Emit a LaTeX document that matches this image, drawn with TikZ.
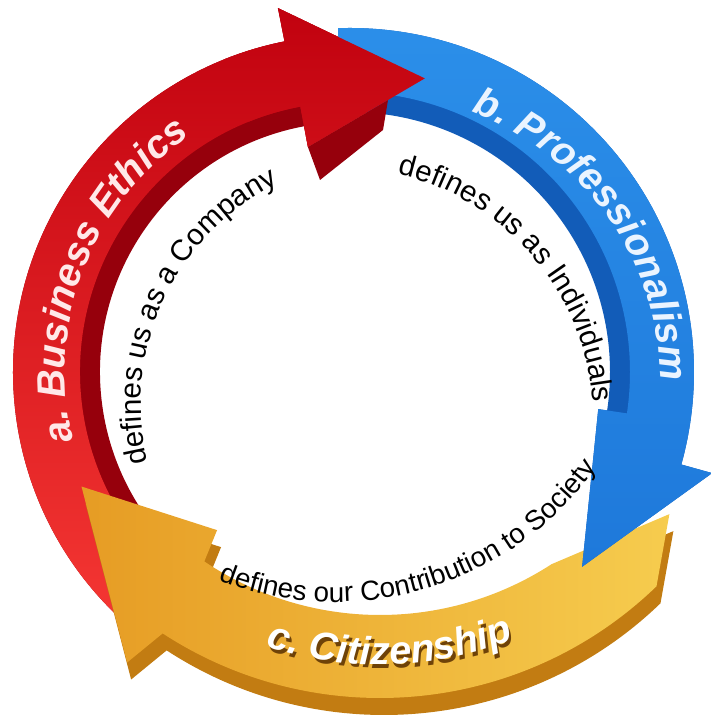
\documentclass[tikz,border=0pt]{standalone}
\usepackage{fontspec}
\setmainfont{Liberation Sans}
\usepackage{tikz}
\usetikzlibrary{decorations.text}
\definecolor{redtop}{RGB}{192,0,14}
\definecolor{redbot}{RGB}{246,56,52}
\definecolor{reddark}{RGB}{150,0,12}
\definecolor{bluetop}{RGB}{44,144,234}
\definecolor{bluebot}{RGB}{26,114,214}
\definecolor{bluedark}{RGB}{18,92,184}
\definecolor{orangeleft}{RGB}{230,156,36}
\definecolor{orangeright}{RGB}{246,204,78}
\definecolor{orangedark}{RGB}{194,124,18}
\definecolor{labelred}{RGB}{255,232,232}
\definecolor{labelblue}{RGB}{234,244,255}
\definecolor{shadowbrown}{RGB}{110,66,8}

\newcommand{\bandfont}{\bfseries\itshape\fontsize{11.2}{13}\selectfont}
\tikzset{
    bandtext/.style 2 args={decorate, decoration={text along path, text align=center, text color=#1, text={|\bandfont|#2}}},
    innertext/.style 2 args={decorate, decoration={text along path, text align=center, text color=black, text={|\fontsize{#1}{10}\selectfont|#2}}}
}

% arrow outlines, #1 = inner radius
\newcommand{\redbody}[1]{(230:3.37) arc[start angle=230, end angle=101.2, radius=3.37] -- (101.2:3.71) -- (75.7:3.03) -- (100.6:2.29) -- (100.6:#1) arc[start angle=100.6, end angle=230, radius=#1] -- cycle}
\newcommand{\redhead}{(112:3.37) arc[start angle=112, end angle=101.2, radius=3.37] -- (101.2:3.71) -- (75.7:3.03) -- (100.6:2.29) -- (100.6:2.70) arc[start angle=100.6, end angle=112, radius=2.70] -- cycle}
\newcommand{\bluebody}[1]{(92:3.44) arc[start angle=92, end angle=-15.6, radius=3.44] -- (-15.6:3.76) -- (-40:3.03) -- (-8.5:2.51) -- (-8.5:#1) arc[start angle=-8.5, end angle=92, radius=#1] -- cycle}
\newcommand{\orangebody}{(314:3.98) arc[start angle=314, end angle=236.9, radius=3.98] -- (235.1:4.42) -- (212:3.52) -- (234.7:2.82) -- (236.1:3.15) arc[start angle=236.1, end angle=303, radius=3.15] -- (323.5:3.60) -- cycle}

\begin{document}
\begin{tikzpicture}

    \useasboundingbox (-3.50,-3.45) rectangle (3.60,3.72);

    % a. red arrow
    \fill[reddark] \redbody{2.50};
    \begin{scope}
        \clip \redbody{2.70};
        \shade[top color=redtop, bottom color=redbot] (-3.6,-2.7) rectangle (3.7,3.8);
    \end{scope}

    % c. orange arrow
    \begin{scope}[shift={(0.30,0.72)}]
        \fill[orangedark, shift={(0.04,-0.17)}] \orangebody;
        \begin{scope}
            \clip \orangebody;
            \shade[left color=orangeleft, right color=orangeright] (-3.0,-4.6) rectangle (2.9,0);
        \end{scope}
    \end{scope}

    % b. blue arrow
    \fill[bluedark] \bluebody{2.60};
    \begin{scope}
        \clip \bluebody{2.80};
        \shade[top color=bluetop, bottom color=bluebot] (-3.6,-3.6) rectangle (3.8,3.8);
    \end{scope}

    % red head again, over the blue tail
    \fill[reddark] (100.6:2.29) -- (0.38,2.72) -- (0.33,2.42) -- (-0.30,1.92) -- cycle;
    \begin{scope}
        \clip \redhead;
        \shade[top color=redtop, bottom color=redbot] (-3.6,-2.7) rectangle (3.7,3.8);
    \end{scope}

    \path[bandtext={labelred}{a. Business Ethics}] (214:2.85) arc[start angle=214, end angle=104, radius=2.85];
    \path[bandtext={labelblue}{b. Professionalism}] ([shift={(0.20,-0.13)}]75.2:2.91) arc[start angle=75.2, end angle=-4.8, radius=2.91];
    \begin{scope}[shift={(0.30,0.72)}]
        \path[bandtext={shadowbrown}{c. Citizenship}, shift={(0.025,-0.035)}] (246.6:3.65) arc[start angle=246.6, end angle=296.6, radius=3.65];
        \path[bandtext={white}{c. Citizenship}] (246.6:3.65) arc[start angle=246.6, end angle=296.6, radius=3.65];
    \end{scope}

    \path[innertext={8.4}{defines us as a Company}] ([shift={(0.37,-0.32)}]200:2.46) arc[start angle=200, end angle=110, radius=2.46];
    \path[innertext={8.4}{defines us as Individuals}] ([shift={(-0.11,-0.50)}]85.5:2.55) arc[start angle=85.5, end angle=-4.5, radius=2.55];
    \path[innertext={7.9}{defines our Contribution to Society}] ([shift={(-0.15,0.92)}]241.6:3.22) arc[start angle=241.6, end angle=331.6, radius=3.22];

\end{tikzpicture}
\end{document}
